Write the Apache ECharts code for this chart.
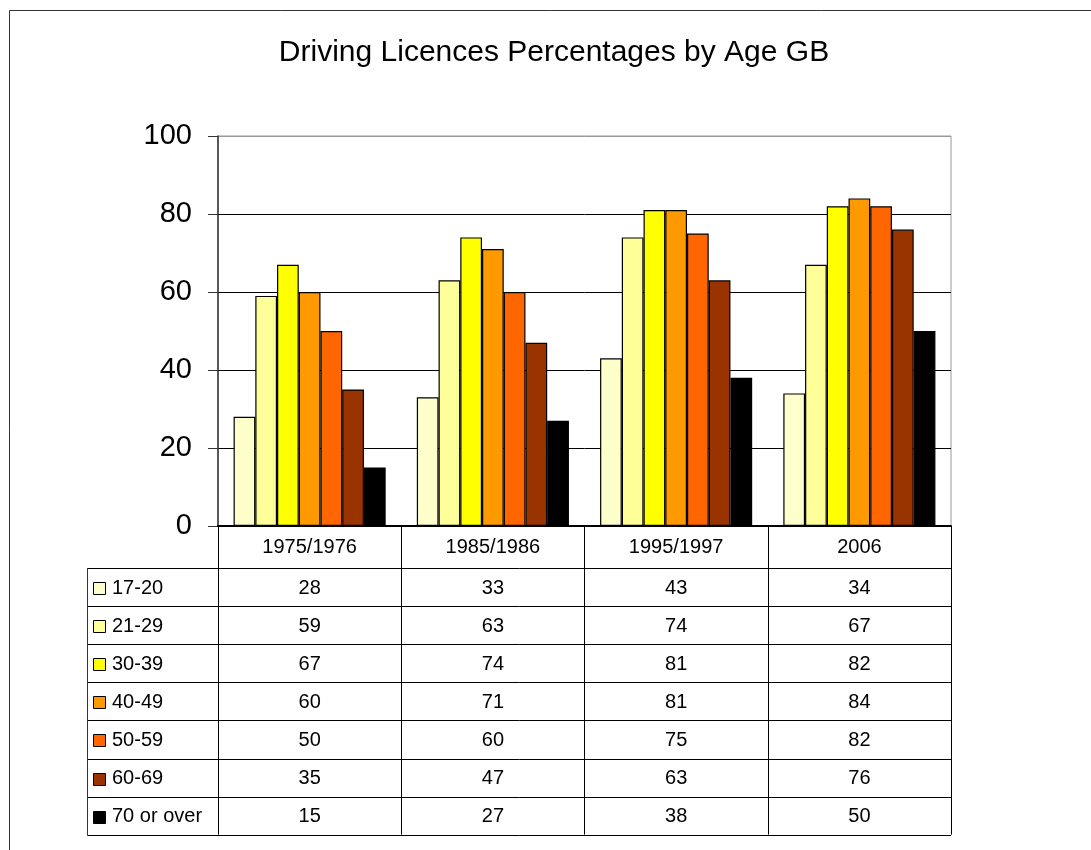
<!DOCTYPE html>
<html>
<head>
<meta charset="utf-8">
<script src="https://cdn.jsdelivr.net/npm/echarts@6/dist/echarts.min.js"></script>
<style>
html,body{margin:0;padding:0;background:#fff;}
#chart{width:1091px;height:850px;}
</style>
</head>
<body>
<div id="chart"></div>
<script>
const titleText = 'Driving Licences Percentages by Age GB';
const categories = ['1975/1976', '1985/1986', '1995/1997', '2006'];
const ageGroups = ['17-20', '21-29', '30-39', '40-49', '50-59', '60-69', '70 or over'];
const age17to20 = [28, 33, 43, 34];
const age21to29 = [59, 63, 74, 67];
const age30to39 = [67, 74, 81, 82];
const age40to49 = [60, 71, 81, 84];
const age50to59 = [50, 60, 75, 82];
const age60to69 = [35, 47, 63, 76];
const age70plus = [15, 27, 38, 50];
const yTicks = [0, 20, 40, 60, 80, 100];

const seriesValues = [age17to20, age21to29, age30to39, age40to49, age50to59, age60to69, age70plus];
const colors = ['#FFFFCC', '#FFFF99', '#FFFF00', '#FF9900', '#FF6600', '#993300', '#000000'];

const FONT = 'Arial, "Liberation Sans", sans-serif';
const gridL = 218, gridT = 136, gridR = 951, gridB = 526;
const W = 1091, H = 850;
const tableTop = 568, rowH = 38.1, tableLeft = 87.5;
const tableBottom = tableTop + ageGroups.length * rowH;

const chart = echarts.init(document.getElementById('chart'), null, {renderer: 'canvas'});

const option = {
  animation: false,
  backgroundColor: '#fff',
  grid: {
    left: gridL, top: gridT, right: W - gridR, bottom: H - gridB,
    show: true, borderColor: '#999', borderWidth: 1, backgroundColor: 'transparent'
  },
  xAxis: {
    type: 'category',
    data: categories,
    axisLine: {show: true, lineStyle: {color: '#000', width: 2}},
    axisTick: {show: true, length: tableBottom - gridB, lineStyle: {color: '#000', width: 1}},
    axisLabel: {fontFamily: FONT, fontSize: 20, color: '#000', margin: 11},
    splitLine: {show: false},
    z: 5
  },
  yAxis: {
    type: 'value',
    min: yTicks[0], max: yTicks[yTicks.length - 1], interval: 20,
    axisLine: {show: true, lineStyle: {color: '#333', width: 1.5}},
    axisTick: {show: true, length: 10, lineStyle: {color: '#333'}},
    axisLabel: {fontFamily: FONT, fontSize: 29, color: '#000', margin: 26},
    splitLine: {show: true, lineStyle: {color: ['#000', '#000', '#000', '#000', '#000', '#999'], width: 1}}
  },
  series: ageGroups.map((name, i) => ({
    name: name,
    type: 'bar',
    data: seriesValues[i],
    barGap: '0%',
    barCategoryGap: '17%',
    itemStyle: {color: colors[i], borderColor: '#000', borderWidth: 1.2},
    z: 3
  }))
};
chart.setOption(option);

// Build title, data table and legend keys from the arrays, positioned via axis scales
const graphics = [];
graphics.push({
  type: 'rect', silent: true,
  shape: {x: 9.5, y: 10.5, width: 3000, height: 3000},
  style: {fill: 'none', stroke: '#333', lineWidth: 1}
});
graphics.push({
  type: 'text', silent: true,
  x: 554, y: 53,
  style: {text: titleText, fontFamily: FONT, fontSize: 30, fill: '#000', align: 'center', verticalAlign: 'middle'}
});
// horizontal table lines
for (let i = 0; i <= ageGroups.length; i++) {
  const y = Math.round(tableTop + i * rowH) + 0.5;
  graphics.push({
    type: 'line', silent: true,
    shape: {x1: tableLeft, y1: y, x2: gridR, y2: y},
    style: {stroke: '#000', lineWidth: 1}
  });
}
graphics.push({
  type: 'line', silent: true,
  shape: {x1: tableLeft, y1: tableTop, x2: tableLeft, y2: Math.round(tableBottom) + 0.5},
  style: {stroke: '#333', lineWidth: 1}
});
ageGroups.forEach((name, i) => {
  const cy = tableTop + i * rowH + rowH / 2;
  graphics.push({
    type: 'rect', silent: true,
    shape: {x: 93.5, y: Math.round(cy - 5) + 0.5, width: 12, height: 12},
    style: {fill: colors[i], stroke: '#000', lineWidth: 1}
  });
  graphics.push({
    type: 'text', silent: true,
    x: 112, y: cy + 1,
    style: {text: name, fontFamily: FONT, fontSize: 20, fill: '#000', align: 'left', verticalAlign: 'middle'}
  });
  categories.forEach((cat, j) => {
    const cx = chart.convertToPixel({xAxisIndex: 0}, cat);
    graphics.push({
      type: 'text', silent: true,
      x: cx, y: cy + 1,
      style: {text: String(seriesValues[i][j]), fontFamily: FONT, fontSize: 20, fill: '#000', align: 'center', verticalAlign: 'middle'}
    });
  });
});
chart.setOption({graphic: graphics});
</script>
</body>
</html>
